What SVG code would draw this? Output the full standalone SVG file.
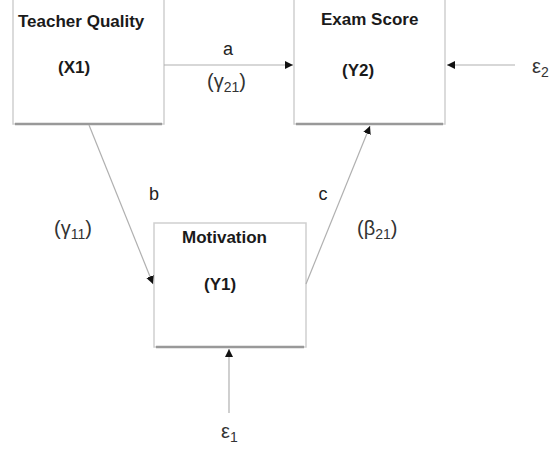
<svg xmlns="http://www.w3.org/2000/svg" width="550" height="450" viewBox="0 0 550 450">
<defs>
<marker id="ah" viewBox="0 0 10 10" refX="10" refY="5" markerWidth="8" markerHeight="8" markerUnits="userSpaceOnUse" orient="auto">
<path d="M0,0 L10,5 L0,10 Z" fill="#111"/>
</marker>
</defs>
<style>
.box{fill:#fff;stroke:#cfcfcf;stroke-width:1.5}
.shadow{stroke:#999;stroke-width:2.5}
.t{font-family:"Liberation Sans",Arial,sans-serif;font-weight:bold;font-size:17px;fill:#1a1a1a}
.l{font-family:"Liberation Sans",Arial,sans-serif;font-size:18px;fill:#222}
.g{font-family:"Liberation Sans",Arial,sans-serif;font-size:20px;fill:#333}
.sub{font-size:14px}
.c{stroke:#b0b0b0;stroke-width:1.2;fill:none}
</style>
<rect width="550" height="450" fill="#fff"/>
<g id="node-x1">
<rect class="box" x="13" y="-1" width="151" height="125"/>
<line class="shadow" x1="15" y1="124" x2="162" y2="124"/>
<text class="t" x="18" y="27">Teacher Quality</text>
<text class="t" x="58" y="73">(X1)</text>
</g>
<g id="node-y2">
<rect class="box" x="294" y="-1" width="151" height="125"/>
<line class="shadow" x1="296" y1="124" x2="443" y2="124"/>
<text class="t" x="321" y="25">Exam Score</text>
<text class="t" x="342" y="76">(Y2)</text>
</g>
<g id="node-y1">
<rect class="box" x="154" y="223" width="152" height="124"/>
<line class="shadow" x1="156" y1="347" x2="304" y2="347"/>
<text class="t" x="182" y="243">Motivation</text>
<text class="t" x="204" y="290">(Y1)</text>
</g>
<g id="connectors">
<line class="c" x1="164" y1="65" x2="293" y2="65" marker-end="url(#ah)"/>
<line class="c" x1="515" y1="65" x2="447" y2="65" marker-end="url(#ah)"/>
<line class="c" x1="89" y1="125" x2="153" y2="284" marker-end="url(#ah)"/>
<line class="c" x1="306" y1="284" x2="370" y2="126" marker-end="url(#ah)"/>
<line class="c" x1="229" y1="413" x2="229" y2="349" marker-end="url(#ah)"/>
</g>
<g id="labels">
<text class="l" x="228" y="55" text-anchor="middle">a</text>
<text class="g" x="207" y="88">(γ<tspan class="sub" dy="4">21</tspan><tspan dy="-4">)</tspan></text>
<text class="l" x="154" y="200" text-anchor="middle">b</text>
<text class="g" x="54" y="235">(γ<tspan class="sub" dy="4">11</tspan><tspan dy="-4">)</tspan></text>
<text class="l" x="323" y="200" text-anchor="middle">c</text>
<text class="g" x="357" y="235">(β<tspan class="sub" dy="4">21</tspan><tspan dy="-4">)</tspan></text>
<text class="g" x="532" y="73">ε<tspan class="sub" dy="4">2</tspan></text>
<text class="g" x="221" y="438">ε<tspan class="sub" dy="4">1</tspan></text>
</g>
</svg>
